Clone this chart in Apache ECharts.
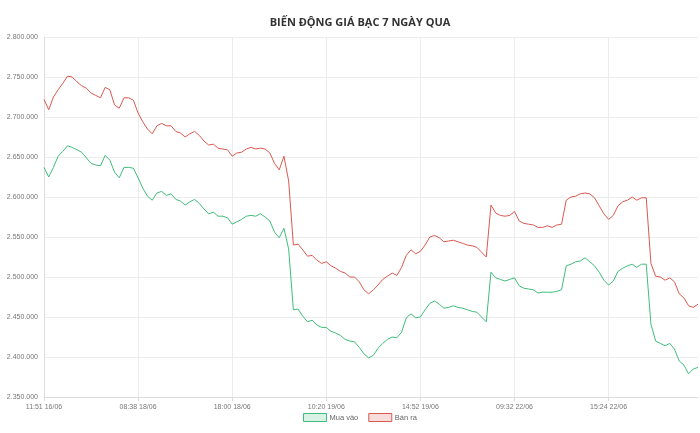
<!DOCTYPE html>
<html>

<head>
    <meta charset="UTF-8">
    <title>Biến động giá bạc</title>
    <script src="https://cdn.jsdelivr.net/npm/echarts@6/dist/echarts.min.js"></script>
    <style type="text/css">
        html,
        body {
            margin: 0px;
            padding: 0px;
            background: #fff;
        }

        #chart {
            width: 700px;
            height: 433px;
        }
    </style>
</head>

<body>
    <div id="chart"></div>
    <script>
        // tick labels on the x axis, one every 20 points
        var tickLabels = ['11:51 16/06', '08:38 18/06', '18:00 18/06', '10:20 19/06', '14:52 19/06', '09:32 22/06', '15:24 22/06'];
        var pointsPerTick = 20;

        var banRa = [
            2722000, 2709000, 2725000, 2734000, 2742000, 2751000, 2750000, 2744000, 2739000, 2736000,
            2730000, 2727000, 2724000, 2737000, 2734000, 2715000, 2711000, 2724000, 2724000, 2721000,
            2705000, 2694000, 2685000, 2679000, 2689000, 2692000, 2689000, 2689000, 2682000, 2680000,
            2675000, 2679000, 2682000, 2677000, 2670000, 2665000, 2666000, 2661000, 2660000, 2659000,
            2651000, 2655000, 2656000, 2660000, 2662000, 2660000, 2661000, 2660000, 2655000, 2642000,
            2634000, 2651000, 2620000, 2540000, 2541000, 2534000, 2526000, 2527000, 2521000, 2517000,
            2519000, 2514000, 2511000, 2507000, 2505000, 2500000, 2500000, 2494000, 2484000, 2479000,
            2484000, 2490000, 2497000, 2501000, 2505000, 2502000, 2512000, 2527000, 2534000, 2529000,
            2532000, 2540000, 2550000, 2552000, 2549000, 2544000, 2545000, 2546000, 2544000, 2542000,
            2540000, 2539000, 2537000, 2531000, 2525000, 2590000, 2580000, 2577000, 2576000, 2577000,
            2582000, 2570000, 2567000, 2566000, 2565000, 2562000, 2562000, 2564000, 2562000, 2565000,
            2566000, 2596000, 2600000, 2601000, 2604000, 2605000, 2604000, 2599000, 2589000, 2579000,
            2572000, 2577000, 2589000, 2594000, 2596000, 2600000, 2596000, 2599000, 2599000, 2517000,
            2501000, 2500000, 2496000, 2499000, 2494000, 2479000, 2474000, 2464000, 2462000, 2466000
        ];

        var muaVao = [
            2637000, 2625000, 2637000, 2651000, 2657000, 2664000, 2662000, 2659000, 2656000, 2649000,
            2642000, 2640000, 2639000, 2652000, 2646000, 2631000, 2624000, 2637000, 2637000, 2636000,
            2624000, 2611000, 2601000, 2596000, 2605000, 2607000, 2602000, 2604000, 2597000, 2595000,
            2590000, 2594000, 2597000, 2592000, 2585000, 2579000, 2581000, 2576000, 2576000, 2574000,
            2566000, 2569000, 2572000, 2576000, 2577000, 2576000, 2579000, 2575000, 2570000, 2556000,
            2549000, 2561000, 2535000, 2459000, 2460000, 2451000, 2444000, 2446000, 2440000, 2437000,
            2437000, 2432000, 2430000, 2427000, 2422000, 2420000, 2419000, 2412000, 2404000, 2399000,
            2402000, 2411000, 2417000, 2422000, 2425000, 2424000, 2431000, 2449000, 2454000, 2449000,
            2450000, 2459000, 2467000, 2470000, 2466000, 2461000, 2462000, 2464000, 2462000, 2461000,
            2459000, 2457000, 2456000, 2450000, 2444000, 2506000, 2499000, 2497000, 2495000, 2497000,
            2499000, 2489000, 2486000, 2485000, 2484000, 2480000, 2481000, 2481000, 2481000, 2482000,
            2484000, 2514000, 2516000, 2519000, 2520000, 2524000, 2519000, 2514000, 2506000, 2496000,
            2490000, 2495000, 2507000, 2511000, 2514000, 2516000, 2512000, 2516000, 2516000, 2441000,
            2420000, 2417000, 2414000, 2417000, 2410000, 2395000, 2390000, 2379000, 2385000, 2387000
        ];

        var categories = [];
        for (var i = 0; i < banRa.length; i++) {
            categories.push(i % pointsPerTick === 0 ? tickLabels[i / pointsPerTick] : '');
        }

        function onTick(index) {
            return index % pointsPerTick === 0;
        }

        function fmtNumber(v) {
            return String(v).replace(/\B(?=(\d{3})+(?!\d))/g, '.');
        }

        var green = '#3fbd7c';
        var red = '#d9594f';

        var chart = echarts.init(document.getElementById('chart'), null, { renderer: 'canvas' });
        chart.setOption({
            animation: false,
            title: {
                text: 'BIẾN ĐỘNG GIÁ BẠC 7 NGÀY QUA',
                left: 355,
                textAlign: 'center',
                top: 12,
                textStyle: {
                    fontFamily: 'Open Sans',
                    fontWeight: 'bold',
                    fontSize: 11,
                    color: '#333'
                }
            },
            legend: {
                bottom: 6,
                left: 298,
                itemWidth: 23,
                itemHeight: 8,
                itemGap: 10,
                textStyle: { fontFamily: 'Liberation Sans', fontSize: 7.5, color: '#666', padding: [0, 0, 0, -2] },
                data: [
                    { name: 'Mua vào', icon: 'rect', itemStyle: { color: 'rgba(63,189,124,0.2)', borderColor: green, borderWidth: 1 } },
                    { name: 'Bán ra', icon: 'rect', itemStyle: { color: 'rgba(217,89,79,0.2)', borderColor: red, borderWidth: 1 } }
                ]
            },
            grid: { left: 44, right: 2, top: 37, bottom: 36 },
            xAxis: {
                type: 'category',
                data: categories,
                boundaryGap: false,
                axisLine: { lineStyle: { color: '#ddd' } },
                axisTick: { show: true, interval: onTick, length: 4, lineStyle: { color: '#ddd' } },
                axisLabel: {
                    interval: onTick,
                    fontFamily: 'Liberation Sans',
                    fontSize: 7,
                    color: '#777',
                    margin: 7
                },
                splitLine: { show: true, interval: onTick, lineStyle: { color: '#ececec' } }
            },
            yAxis: {
                type: 'value',
                min: 2350000,
                max: 2800000,
                interval: 50000,
                axisLine: { show: true, lineStyle: { color: '#ddd' } },
                axisTick: { show: false },
                axisLabel: {
                    formatter: fmtNumber,
                    fontFamily: 'Liberation Sans',
                    fontSize: 7,
                    color: '#777',
                    margin: 6
                },
                splitLine: { lineStyle: { color: '#ececec' } }
            },
            series: [
                {
                    name: 'Mua vào',
                    type: 'line',
                    data: muaVao,
                    showSymbol: false,
                    lineStyle: { color: green, width: 1 },
                    itemStyle: { color: green }
                },
                {
                    name: 'Bán ra',
                    type: 'line',
                    data: banRa,
                    showSymbol: false,
                    lineStyle: { color: red, width: 1 },
                    itemStyle: { color: red }
                }
            ]
        });
    </script>
</body>

</html>
